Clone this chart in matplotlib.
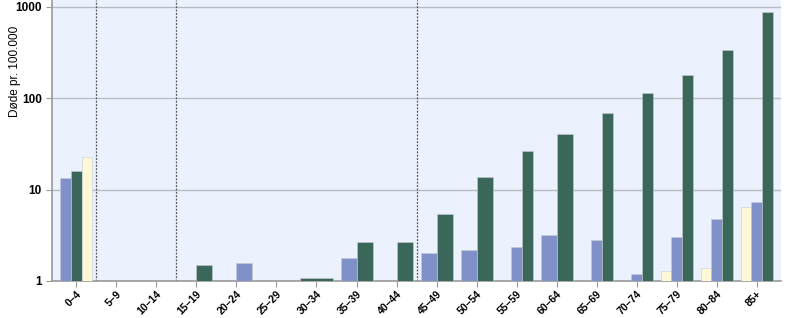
import matplotlib
matplotlib.use('Agg')
import matplotlib.pyplot as plt
import numpy as np

plt.rcParams['font.family'] = ['Liberation Sans', 'DejaVu Sans']

age_groups = ['0–4', '5–9', '10–14', '15–19', '20–24', '25–29', '30–34', '35–39', '40–44',
              '45–49', '50–54', '55–59', '60–64', '65–69', '70–74', '75–79', '80–84', '85+']

nan = np.nan
# values per series; nan = no bar, values below 1 sit under the axis
series_yellow = [22.5, nan, nan, nan, nan, nan, nan, nan, nan,
                 nan, nan, 0.5, nan, 0.5, 0.5, 1.29, 1.40, 6.4]
series_blue = [13.5, 1.01, nan, 0.5, 1.58, 1.01, nan, 1.78, 0.5,
               2.01, 2.18, 2.37, 3.16, 2.78, 1.19, 3.0, 4.8, 7.25]
series_green = [15.8, 0.5, nan, 1.49, 0.5, nan, 1.09, 2.69, 2.69,
                5.36, 13.8, 26.4, 40.1, 69.0, 114.0, 181.0, 332.0, 871.0]

colors = {'yellow': '#FFF8D6', 'blue': '#8090C8', 'green': '#3A675A'}
separators = [0.5, 2.5, 8.5]

fig = plt.figure(figsize=(8, 3.18), dpi=100)
ax = fig.add_axes([0.0654, 0.1164, 0.9106, 0.8836])
ax.set_facecolor('#EBF2FD')

group_width = 0.8
for i in range(len(age_groups)):
    vals = []
    for name, s in (('yellow', series_yellow), ('blue', series_blue), ('green', series_green)):
        if not np.isnan(s[i]):
            vals.append((s[i], name))
    vals.sort()
    n = len(vals)
    if n == 0:
        continue
    w = group_width / n
    for j, (v, name) in enumerate(vals):
        x = i - group_width / 2 + w * (j + 0.5)
        ax.bar(x, v - 1, bottom=1, width=w, color=colors[name],
               edgecolor='#C8CCD0', linewidth=0.4, zorder=3)

ax.set_yscale('log')
ax.set_ylim(1, 1184)
ax.set_xlim(-0.6, len(age_groups) - 0.4)

ax.set_yticks([1, 10, 100, 1000])
ax.set_yticklabels(['1', '10', '100', '1000'], fontsize=8.5, fontweight='bold')
ax.minorticks_off()
ax.yaxis.grid(True, color='#B8BCC4', linewidth=1, zorder=1)

ax.set_xticks(range(len(age_groups)))
ax.set_xticklabels(age_groups, rotation=45, ha='right', rotation_mode='anchor',
                   fontsize=7.5, fontweight='bold')
ax.tick_params(axis='both', color='#999999', length=4, width=0.8)
ax.tick_params(axis='x', pad=1.5)

for s in separators:
    ax.axvline(s, color='#555555', linestyle=(0, (1.5, 1.2)), linewidth=0.9, zorder=2)

for side in ('top', 'right'):
    ax.spines[side].set_visible(False)
for side in ('left', 'bottom'):
    ax.spines[side].set_color('#999999')
    ax.spines[side].set_linewidth(1.2)

ax.set_ylabel('Døde pr. 100.000', fontsize=8.5)
ax.yaxis.set_label_coords(-0.043, 0.747)

fig.savefig('out.png', dpi=100)
